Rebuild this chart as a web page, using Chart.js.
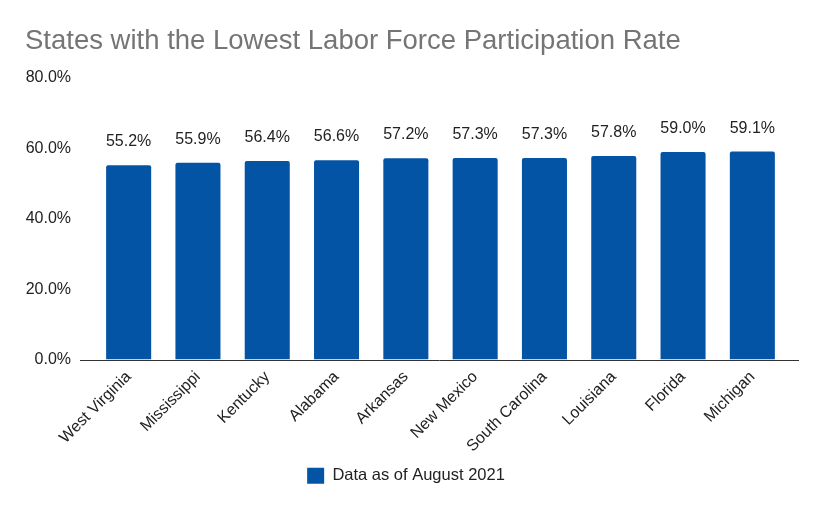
<!DOCTYPE html>
<html>
<head>
<meta charset="utf-8">
<script src="https://cdn.jsdelivr.net/npm/chart.js@4"></script>
<style>
  body { margin: 0; background: #fff; }
</style>
</head>
<body>
<canvas id="chart" width="825" height="510"></canvas>
<script>
const states = ['West Virginia', 'Mississippi', 'Kentucky', 'Alabama', 'Arkansas',
  'New Mexico', 'South Carolina', 'Louisiana', 'Florida', 'Michigan'];
const participation = [55.2, 55.9, 56.4, 56.6, 57.2, 57.3, 57.3, 57.8, 59.0, 59.1];
const yTicks = [0, 20, 40, 60, 80];

const font = 'Arial, "Liberation Sans", sans-serif';

// value labels over each bar
const barLabels = {
	id: 'barLabels',
	afterDatasetsDraw(chart) {
		let ctx = chart.ctx;
		let meta = chart.getDatasetMeta(0);
		ctx.save();
		ctx.font = '16px ' + font;
		ctx.fillStyle = '#222';
		ctx.textAlign = 'center';
		ctx.textBaseline = 'alphabetic';
		meta.data.forEach((bar, i) => {
			ctx.fillText(participation[i].toFixed(1) + '%', bar.x, bar.y - 19);
		});
		ctx.restore();
	}
};

// baseline that runs a little past the plot on both sides
const baseLine = {
	id: 'baseLine',
	afterDatasetsDraw(chart) {
		let ctx = chart.ctx;
		let area = chart.chartArea;
		let y = Math.round(chart.scales.y.getPixelForValue(0)) + 0.5;
		ctx.save();
		ctx.strokeStyle = '#333';
		ctx.lineWidth = 1;
		ctx.beginPath();
		ctx.moveTo(area.left - 14, y);
		ctx.lineTo(area.right + 12, y);
		ctx.stroke();
		ctx.restore();
	}
};

new Chart(document.getElementById('chart'), {
	type: 'bar',
	data: {
		labels: states,
		datasets: [{
			label: 'Data as of August 2021',
			data: participation,
			backgroundColor: '#0454a6',
			borderRadius: 2,
			barPercentage: 0.65,
			categoryPercentage: 1
		}]
	},
	options: {
		responsive: false,
		animation: false,
		layout: { padding: { left: 25, right: 38, top: 0, bottom: 16 } },
		plugins: {
			title: {
				display: true,
				text: 'States with the Lowest Labor Force Participation Rate',
				align: 'start',
				color: '#757575',
				font: { family: font, size: 27.5, weight: 'normal' },
				padding: { top: 25, bottom: 20 }
			},
			legend: {
				position: 'bottom',
				labels: {
					color: '#222',
					font: { family: font, size: 16.5 },
					boxWidth: 17,
					boxHeight: 16,
					padding: 10
				}
			},
			tooltip: { enabled: false }
		},
		scales: {
			x: {
				grid: { display: false, drawTicks: false },
				border: { display: false },
				ticks: {
					color: '#222',
					font: { family: font, size: 16 },
					minRotation: 45,
					maxRotation: 45,
					padding: 8
				},
				afterFit(scale) { scale.height = 98; }
			},
			y: {
				min: 0,
				max: 80,
				grid: { display: false, drawTicks: false },
				border: { display: false },
				afterBuildTicks(scale) { scale.ticks = yTicks.map(v => ({ value: v })); },
				ticks: {
					color: '#222',
					font: { family: font, size: 16 },
					padding: 23,
					callback: v => v.toFixed(1) + '%'
				},
				afterFit(scale) { scale.width = 69; }
			}
		}
	},
	plugins: [barLabels, baseLine]
});
</script>
</body>
</html>
